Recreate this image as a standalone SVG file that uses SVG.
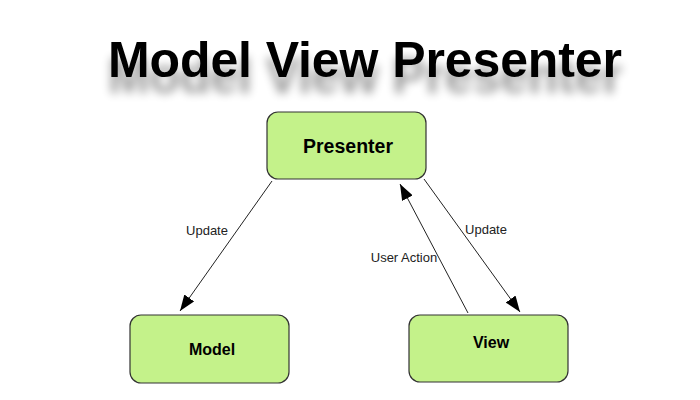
<svg xmlns="http://www.w3.org/2000/svg" width="700" height="400" viewBox="0 0 700 400">
<style>
.box{fill:#c4f28a;stroke:#333;stroke-width:1.2}
.lbl{font-family:"Liberation Sans",Arial,sans-serif;font-weight:bold;font-size:16px;fill:#000;text-anchor:middle}
.elbl{font-family:"Liberation Sans",Arial,sans-serif;font-size:13px;fill:#222;text-anchor:middle}
.conn{stroke:#222;stroke-width:1;fill:none;marker-end:url(#ah)}
</style>
<defs>
<marker id="ah" viewBox="0 0 16 12" refX="16" refY="6" markerWidth="16" markerHeight="12" markerUnits="userSpaceOnUse" orient="auto">
<path d="M0,0 L16,6 L0,12 Z" fill="#000"/>
</marker>
<filter id="sh" x="-10%" y="-50%" width="120%" height="250%">
<feGaussianBlur in="SourceAlpha" stdDeviation="5" result="b"/>
<feOffset in="b" dx="0" dy="16" result="o"/>
<feComponentTransfer in="o" result="s"><feFuncA type="linear" slope="0.4"/></feComponentTransfer>
<feMerge><feMergeNode in="s"/><feMergeNode in="SourceGraphic"/></feMerge>
</filter>
</defs>
<rect width="700" height="400" fill="#fff"/>
<text x="365" y="77" filter="url(#sh)" font-family="Liberation Sans,Arial,sans-serif" font-weight="bold" font-size="50" text-anchor="middle" textLength="514" fill="#000">Model View Presenter</text>
<g id="connectors">
<line class="conn" x1="272" y1="181" x2="180" y2="311"/>
<line class="conn" x1="424" y1="179" x2="520" y2="312"/>
<line class="conn" x1="468" y1="313" x2="400" y2="184"/>
<text class="elbl" x="207" y="235">Update</text>
<text class="elbl" x="486" y="234">Update</text>
<text class="elbl" x="404" y="262">User Action</text>
</g>
<g id="presenter">
<rect class="box" x="267" y="112" width="159" height="67" rx="11"/>
<text class="lbl" x="348" y="153" style="font-size:19.5px">Presenter</text>
</g>
<g id="model">
<rect class="box" x="130" y="315" width="159" height="68" rx="11"/>
<text class="lbl" x="212" y="355">Model</text>
</g>
<g id="view">
<rect class="box" x="409" y="315" width="159" height="67" rx="11"/>
<text class="lbl" x="491" y="348">View</text>
</g>
</svg>
